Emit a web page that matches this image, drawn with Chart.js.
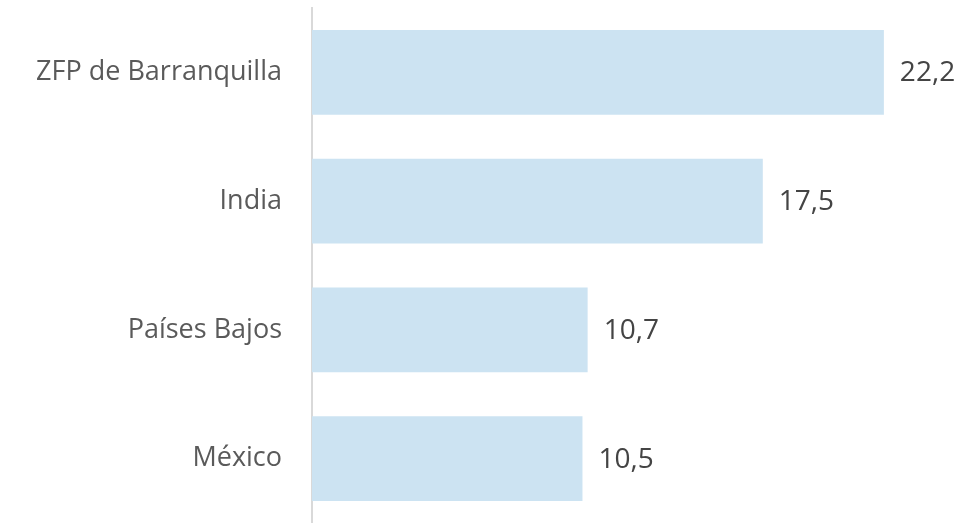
<!DOCTYPE html>
<html>
<head>
<meta charset="utf-8">
<script src="https://cdn.jsdelivr.net/npm/chart.js@4.4.1/dist/chart.umd.min.js"></script>
<style>
  html, body { margin: 0; padding: 0; background: #fff; }
  #wrap { width: 975px; height: 523px; position: relative; }
</style>
</head>
<body>
<div id="wrap"><canvas id="grafico"></canvas></div>
<script>
// datos
const categorias = ["ZFP de Barranquilla", "India", "Países Bajos", "México"];
const valores = [22.2, 17.5, 10.7, 10.5];

const fuente = "'Open Sans', Lato, sans-serif";

// etiquetas de valor a la derecha de cada barra
const etiquetasValor = {
  id: "etiquetasValor",
  afterDatasetsDraw(chart) {
    const ctx = chart.ctx;
    const meta = chart.getDatasetMeta(0);
    ctx.save();
    ctx.font = "28px " + fuente;
    ctx.fillStyle = "#444444";
    ctx.textAlign = "left";
    ctx.textBaseline = "middle";
    meta.data.forEach(function (barra, i) {
      const txt = valores[i].toFixed(1).replace(".", ",");
      ctx.fillText(txt, barra.x + 16, barra.y + 1);
    });
    ctx.restore();
  }
};

new Chart(document.getElementById("grafico"), {
  type: "bar",
  data: {
    labels: categorias,
    datasets: [{
      data: valores,
      backgroundColor: "#cce3f2",
      borderWidth: 0,
      categoryPercentage: 1,
      barPercentage: 0.66
    }]
  },
  options: {
    indexAxis: "y",
    responsive: true,
    maintainAspectRatio: false,
    animation: false,
    layout: { padding: { top: 8, right: 19, bottom: 0, left: 0 } },
    plugins: {
      legend: { display: false },
      tooltip: { enabled: false }
    },
    scales: {
      x: {
        display: false,
        min: 0,
        max: 25
      },
      y: {
        afterFit(scale) {
          scale.width = 312;
          scale.paddingTop = 0;
          scale.paddingBottom = 0;
        },
        grid: { display: false, drawTicks: false },
        border: { display: true, color: "#d9d9d9", width: 2 },
        ticks: {
          padding: 30,
          color: "#5a5a5a",
          font: { family: fuente, size: 27 }
        }
      }
    }
  },
  plugins: [etiquetasValor]
});
</script>
</body>
</html>
